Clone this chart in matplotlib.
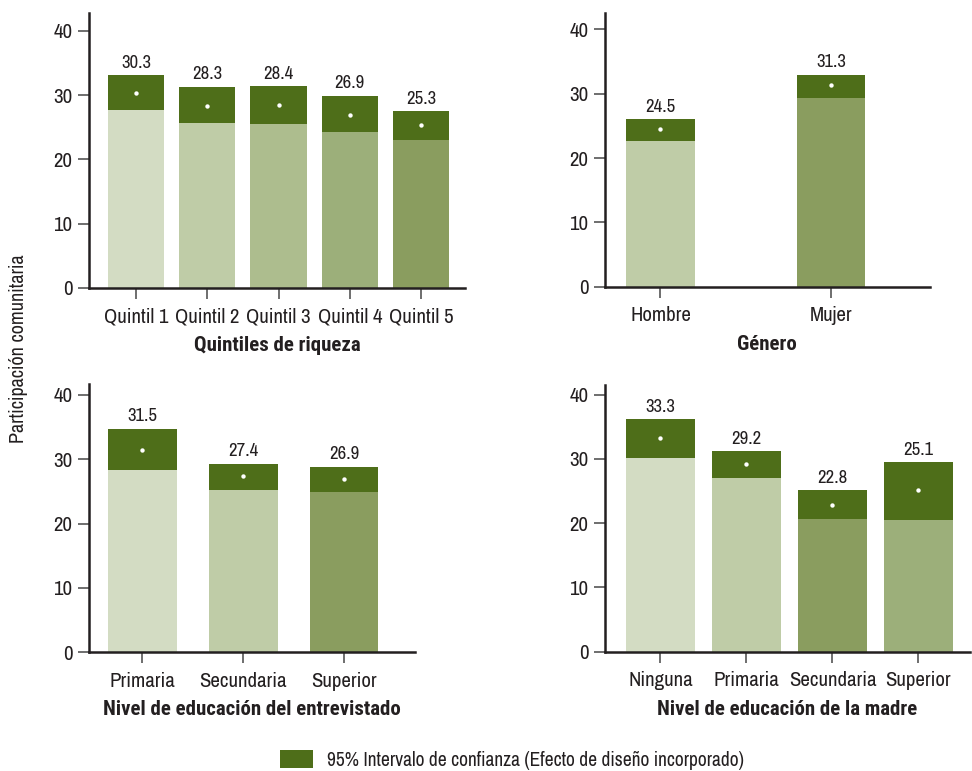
import numpy as np
import matplotlib
matplotlib.use("Agg")
import matplotlib.pyplot as plt
from matplotlib.patches import Patch

plt.rcParams['font.family'] = ['Archivo Narrow', 'Liberation Sans', 'DejaVu Sans']
BOLD_FAMILY = ['Roboto Condensed', 'Fira Sans Condensed', 'Liberation Sans']

# Data
quint_labels = ['Quintil 1', 'Quintil 2', 'Quintil 3', 'Quintil 4', 'Quintil 5']
quint_values = [30.3, 28.3, 28.4, 26.9, 25.3]
quint_lo = [27.7, 25.7, 25.5, 24.3, 23.0]
quint_hi = [33.1, 31.3, 31.4, 29.9, 27.5]

gen_labels = ['Hombre', 'Mujer']
gen_values = [24.5, 31.3]
gen_lo = [22.6, 29.3]
gen_hi = [26.0, 32.9]

edu_labels = ['Primaria', 'Secundaria', 'Superior']
edu_values = [31.5, 27.4, 26.9]
edu_lo = [28.4, 25.2, 24.9]
edu_hi = [34.7, 29.3, 28.8]

mad_labels = ['Ninguna', 'Primaria', 'Secundaria', 'Superior']
mad_values = [33.3, 29.2, 22.8, 25.1]
mad_lo = [30.1, 27.0, 20.6, 20.5]
mad_hi = [36.2, 31.2, 25.1, 29.5]

# Colours
C1, C2, C3, C4, C5 = '#d3dcc3', '#bfcca7', '#adbd8e', '#9caf7a', '#8a9d5f'
CI_COLOR = '#4e6e19'
AXIS_COLOR = '#231f20'
TEXT_COLOR = '#231f20'

panels = [
    # (rect, labels, values, lo, hi, colors, title, xlim, ylim_top, width)
    ([0.0916, 0.6265, 0.387, 0.357], quint_labels, quint_values, quint_lo, quint_hi,
     [C1, C2, C3, C4, C5], 'Quintiles de riqueza', (-0.66, 4.62), 42.8, 0.79),
    ([0.6224, 0.628, 0.334, 0.355], gen_labels, gen_values, gen_lo, gen_hi,
     [C2, C5], 'Género', (-0.325, 1.576), 42.5, 0.40),
    ([0.0916, 0.154, 0.335, 0.348], edu_labels, edu_values, edu_lo, edu_hi,
     [C1, C2, C5], 'Nivel de educación del entrevistado', (-0.53, 2.70), 41.7, 0.68),
    ([0.6224, 0.1547, 0.3755, 0.346], mad_labels, mad_values, mad_lo, mad_hi,
     [C1, C2, C5, C4], 'Nivel de educación de la madre', (-0.645, 3.6), 41.5, 0.80),
]

fig = plt.figure(figsize=(9.72, 7.71), dpi=100)

for rect, labels, values, lo, hi, colors, title, xlim, ytop, width in panels:
    ax = fig.add_axes(rect)
    x = np.arange(len(labels))
    lo = np.array(lo)
    hi = np.array(hi)
    ax.bar(x, lo, width=width, color=colors, edgecolor='none', zorder=2)
    ax.bar(x, hi - lo, bottom=lo, width=width, color=CI_COLOR, edgecolor='none', zorder=2)
    ax.scatter(x, values, s=10, color='white', zorder=3, linewidths=0)
    for xi, v, h in zip(x, values, hi):
        ax.text(xi, h + 0.7, f'{v:.1f}', ha='center', va='bottom',
                fontsize=13.5, color=TEXT_COLOR)
    ax.set_xlim(*xlim)
    ax.set_ylim(0, ytop)
    ax.set_yticks([0, 10, 20, 30, 40])
    ax.set_xticks(x)
    ax.set_xticklabels(labels)
    for s in ['top', 'right']:
        ax.spines[s].set_visible(False)
    for s in ['left', 'bottom']:
        ax.spines[s].set_linewidth(1.8)
        ax.spines[s].set_color(AXIS_COLOR)
    ax.tick_params(axis='both', direction='out', length=8, width=1.2,
                   color='#555555', labelsize=15, labelcolor=TEXT_COLOR, pad=4)
    ax.tick_params(axis='x', pad=6)
    ax.set_xlabel(title, fontsize=15, fontweight='bold', family=BOLD_FAMILY,
                  color=TEXT_COLOR, labelpad=7)

fig.text(0.019, 0.548, 'Participación comunitaria', rotation=90, ha='center', va='center',
         fontsize=14.5, color=TEXT_COLOR)

handle = Patch(facecolor=CI_COLOR, edgecolor='none')
fig.legend([handle], ['95% Intervalo de confianza (Efecto de diseño incorporado)'],
           loc='center', bbox_to_anchor=(0.527, 0.0143), frameon=False, fontsize=14,
           handlelength=1.7, handleheight=1.0, handletextpad=0.72,
           borderpad=0.2, labelcolor=TEXT_COLOR)

fig.savefig('out.png', dpi=100)
